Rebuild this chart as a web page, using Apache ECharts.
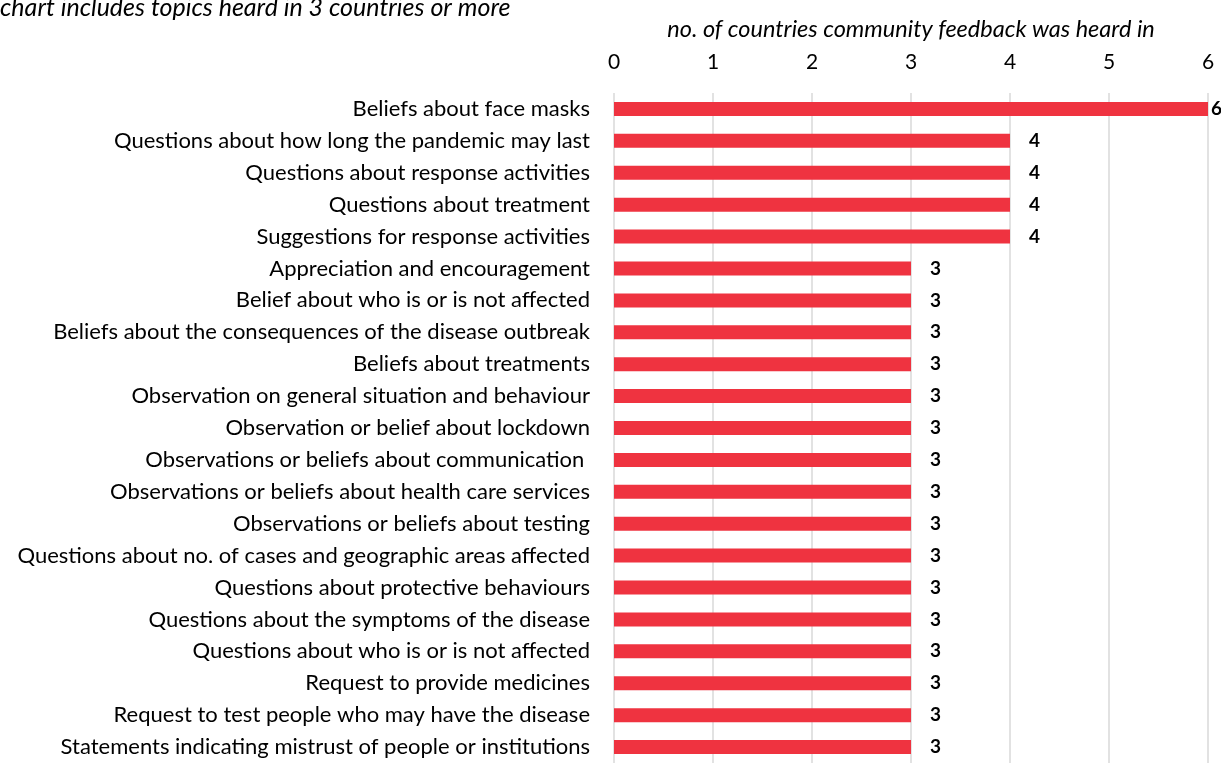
<!DOCTYPE html>
<html>
<head>
<meta charset="utf-8">
<script src="https://cdn.jsdelivr.net/npm/echarts@6/dist/echarts.min.js"></script>
<style>
  html, body { margin: 0; padding: 0; background: #fff; }
  #chart { width: 1221px; height: 763px; }
</style>
</head>
<body>
<div id="chart"></div>
<script>
// topics, top to bottom
var topics = [
  "Beliefs about face masks",
  "Questions about how long the pandemic may last",
  "Questions about response activities",
  "Questions about treatment",
  "Suggestions for response activities",
  "Appreciation and encouragement",
  "Belief about who is or is not affected",
  "Beliefs about the consequences of the disease outbreak",
  "Beliefs about treatments",
  "Observation on general situation and behaviour",
  "Observation or belief about lockdown",
  "Observations or beliefs about communication ",
  "Observations or beliefs about health care services",
  "Observations or beliefs about testing",
  "Questions about no. of cases and geographic areas affected",
  "Questions about protective behaviours",
  "Questions about the symptoms of the disease",
  "Questions about who is or is not affected",
  "Request to provide medicines",
  "Request to test people who may have the disease",
  "Statements indicating mistrust of people or institutions"
];
var countries = [6, 4, 4, 4, 4, 3, 3, 3, 3, 3, 3, 3, 3, 3, 3, 3, 3, 3, 3, 3, 3];
var xTicks = [0, 1, 2, 3, 4, 5, 6];

var FONT = 'Lato, "Open Sans", sans-serif';
var chart = echarts.init(document.getElementById('chart'));

var maxVal = xTicks[xTicks.length - 1];
var barData = countries.map(function (v) {
  // Excel pulls the label in when it hits the plot edge
  return v >= maxVal ? { value: v, label: { distance: 3 } } : v;
});

chart.setOption({
  backgroundColor: '#fff',
  animation: false,
  title: {
    text: 'chart includes topics heard in 3 countries or more',
    left: 0,
    top: -5,
    padding: 0,
    textStyle: { fontFamily: FONT, fontStyle: 'italic', fontWeight: 'normal', fontSize: 25, color: '#000' }
  },
  grid: {
    left: 614,
    right: 13,
    top: 93,
    height: 678,
    containLabel: false
  },
  xAxis: {
    type: 'value',
    position: 'top',
    min: xTicks[0],
    max: maxVal,
    interval: 1,
    name: 'no. of countries community feedback was heard in',
    nameLocation: 'middle',
    nameGap: 52,
    nameTextStyle: { fontFamily: FONT, fontStyle: 'italic', fontSize: 23.5, color: '#000' },
    axisLine: { show: false },
    axisTick: { show: false },
    axisLabel: {
      margin: 20,
      fontFamily: FONT, fontSize: 21, color: '#000',
      formatter: function (v) { return xTicks.indexOf(v) >= 0 ? String(v) : ''; }
    },
    splitLine: { show: true, lineStyle: { color: '#d9d9d9', width: 1.5 } }
  },
  yAxis: {
    type: 'category',
    inverse: true,
    data: topics,
    axisLine: { show: false },
    axisTick: { show: false },
    axisLabel: { margin: 24, fontFamily: FONT, fontSize: 22, color: '#000' }
  },
  series: [{
    type: 'bar',
    data: barData,
    barWidth: 14,
    itemStyle: { color: '#ef3340' },
    label: {
      show: true,
      position: 'right',
      distance: 19,
      fontFamily: FONT,
      fontWeight: 'bold',
      fontSize: 19,
      color: '#000'
    }
  }]
});
</script>
</body>
</html>
